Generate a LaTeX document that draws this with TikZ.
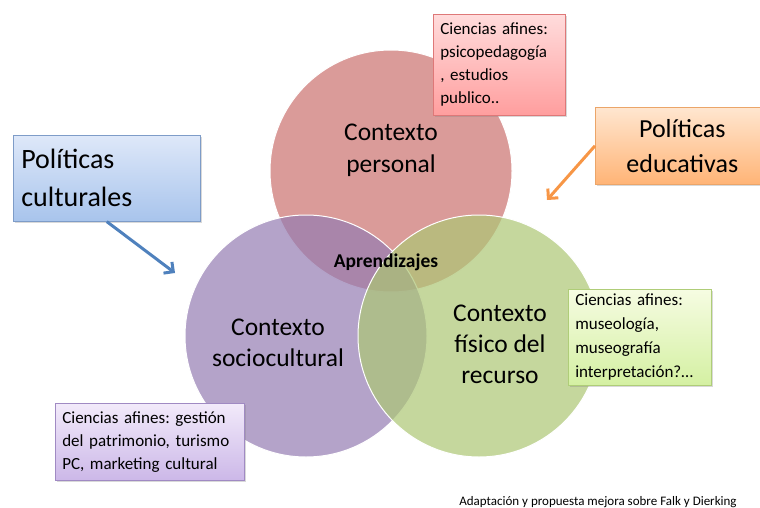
\documentclass[tikz,border=0pt]{standalone}
\usepackage{fontspec}
\setmainfont{Carlito}
\usetikzlibrary{positioning,shadows,arrows.meta}
\frenchspacing

\definecolor{ctxred}{RGB}{203,112,110}
\definecolor{ctxviolet}{RGB}{148,124,178}
\definecolor{ctxgreen}{RGB}{172,198,116}
\definecolor{arrowblue}{RGB}{79,129,189}
\definecolor{arroworange}{RGB}{247,150,70}

\tikzset{
    ctx circle/.style={
        circle,
        draw=white,
        line width=1pt,
        fill opacity=0.7,
        minimum size=242pt,
        inner sep=0pt,
    },
    ctx label/.style={
        align=center,
        font=\fontsize{25.5}{32}\selectfont,
    },
    note box/.style={
        rectangle,
        anchor=north west,
        align=left,
        inner xsep=7pt,
        inner ysep=2pt,
        line width=0.6pt,
        font=\fontsize{17}{23}\selectfont,
        drop shadow={opacity=0.3,shadow xshift=2pt,shadow yshift=-2pt},
    },
    policy box/.style={
        note box,
        inner xsep=8pt,
        font=\fontsize{28}{38}\selectfont,
    },
    redbox/.style={draw={rgb,255:red,222;green,120;blue,120},
        top color={rgb,255:red,255;green,220;blue,220},
        bottom color={rgb,255:red,255;green,158;blue,158}},
    greenbox/.style={draw={rgb,255:red,175;green,205;blue,120},
        top color={rgb,255:red,246;green,252;blue,226},
        bottom color={rgb,255:red,212;green,240;blue,162}},
    violetbox/.style={draw={rgb,255:red,160;green,138;blue,195},
        top color={rgb,255:red,242;green,234;blue,250},
        bottom color={rgb,255:red,204;green,184;blue,232}},
    bluebox/.style={draw={rgb,255:red,126;green,156;blue,200},
        top color={rgb,255:red,222;green,232;blue,249},
        bottom color={rgb,255:red,168;green,196;blue,236}},
    orangebox/.style={draw={rgb,255:red,235;green,165;blue,105},
        top color={rgb,255:red,255;green,230;blue,208},
        bottom color={rgb,255:red,255;green,180;blue,118}},
    connector/.style={
        -{Straight Barb[length=7pt,width=14pt]},
        line width=3pt,
    },
}

\begin{document}
\begin{tikzpicture}[x=1pt,y=1pt]
    \useasboundingbox (0,0) rectangle (760,-508);

    % the three contexts
    \node[ctx circle,fill=ctxred](personal) at (391,-171) {};
    \node[ctx circle,fill=ctxviolet](socio) at (306,-336) {};
    \node[ctx circle,fill=ctxgreen](fisico) at (479,-336) {};

    \node[ctx label](personal txt) at ([yshift=21pt]personal.center) {Contexto\\personal};
    \node[ctx label,font=\fontsize{25.5}{31}\selectfont](socio txt) at (278,-343) {Contexto\\sociocultural};
    \node[ctx label,font=\fontsize{25.5}{31}\selectfont](fisico txt) at (500,-344) {Contexto\\físico del\\recurso};
    \node[font=\fontsize{19.5}{22}\selectfont\bfseries](aprend) at (386,-262) {Aprendizajes};

    % ciencias afines
    \node[note box,redbox,minimum width=132pt,minimum height=101pt,text width=118pt](psico) at (433,-14)
        {Ciencias afines:\\psicopedagogía\\, estudios\\publico..};
    \node[note box,greenbox,minimum width=143pt,minimum height=96pt,text width=129pt,
        font=\fontsize{17}{24}\selectfont](museo) at (568,-289)
        {Ciencias afines:\\museología,\\museografía\\interpretación?\ldots};
    \node[note box,violetbox,minimum width=189pt,minimum height=77pt,text width=175pt](patrim) at (55,-403)
        {Ciencias afines: gestión\\del patrimonio, turismo\\PC, marketing cultural};

    % politicas
    \node[policy box,bluebox,minimum width=187pt,minimum height=86pt,text width=171pt](cult) at (13,-135)
        {Políticas\\culturales};
    \node[policy box,orangebox,align=center,minimum width=174pt,minimum height=77pt,text width=158pt,
        font=\fontsize{26}{35}\selectfont](edu) at (595,-107)
        {Políticas\\educativas};

    \coordinate (cult end) at (175,-273);
    \coordinate (edu end) at (547,-200);
    \draw[connector,arrowblue] (cult.south) -- (cult end);
    \draw[connector,arroworange] (edu.west) -- (edu end);

    \node[font=\fontsize{13}{15}\selectfont,anchor=base](fuente) at (598,-505)
        {Adaptación y propuesta mejora sobre Falk y Dierking};
\end{tikzpicture}
\end{document}
